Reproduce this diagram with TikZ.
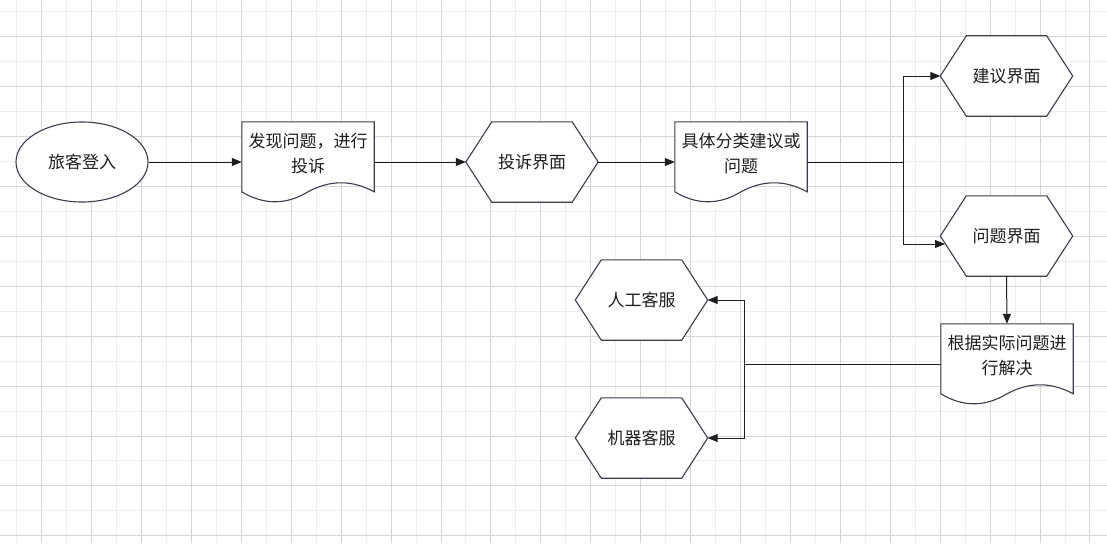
\documentclass[tikz,border=0pt]{standalone}
\usepackage{fontspec}
\setmainfont{Noto Sans CJK SC}
\usetikzlibrary{shapes.geometric,arrows.meta,calc}
\pgfdeclarelayer{bg}
\pgfdeclarelayer{mid}
\pgfsetlayers{bg,mid,main}
\definecolor{gridA}{RGB}{214,214,214}
\definecolor{gridB}{RGB}{238,238,238}
\definecolor{edgec}{RGB}{60,60,76}
\definecolor{inkc}{RGB}{30,30,30}
\tikzset{
  box/.style={rectangle, minimum width=132pt, minimum height=80pt, inner sep=0pt},
  txt/.style={font=\fontsize{17pt}{25pt}\selectfont, text=inkc, align=center},
  shapeline/.style={draw=edgec, line width=1.1pt, fill=white},
  conn/.style={draw=inkc, line width=1pt, -{Triangle[length=10pt,width=8pt]}},
  plainline/.style={draw=inkc, line width=1pt},
  gridfaint/.style={draw=gridB, line width=1pt},
  griddark/.style={draw=gridA, line width=1pt},
}
\newcommand\hexoutline[1]{%
  \draw[shapeline] (#1.west) -- ($(#1.north west)+(26,0)$) -- ($(#1.north east)+(-26,0)$)
    -- (#1.east) -- ($(#1.south east)+(-26,0)$) -- ($(#1.south west)+(26,0)$) -- cycle;}
\newcommand\docoutline[1]{%
  \draw[shapeline] (#1.north west) -- (#1.north east) -- ($(#1.north east)+(0,70)$)
    .. controls ($(#1.north east)+(-22,58)$) and ($(#1.north)+(22,58)$) .. ($(#1.north)+(0,70)$)
    .. controls ($(#1.north)+(-22,83.3)$) and ($(#1.north west)+(22,83.3)$) .. ($(#1.north west)+(0,70)$)
    -- cycle;}
\begin{document}
\begin{tikzpicture}[x=1pt,y=-1pt]
\useasboundingbox (0,0) rectangle (1107,543);
\begin{pgfonlayer}{bg}
  \fill[white] (0,0) rectangle (1107,543);
  \foreach \j in {0,...,21} {\draw[gridfaint] ({16.7+49.92*\j},0) -- ++(0,543);}
  \foreach \j in {0,...,10} {\draw[gridfaint] (0,{11.7+49.92*\j}) -- ++(1107,0);}
  \foreach \j in {0,...,21} {\draw[griddark] ({41.66+49.92*\j},0) -- ++(0,543);}
  \foreach \j in {0,...,10} {\draw[griddark] (0,{36.66+49.92*\j}) -- ++(1107,0);}
\end{pgfonlayer}

% nodes
\node[ellipse, draw=edgec, line width=1.1pt, fill=white, minimum width=132pt, minimum height=80pt, inner sep=0pt, txt] (e1) at (82,162) {旅客登入};
\node[box, label={[txt,yshift=8pt]center:{发现问题，进行\\投诉}}] (d1) at (308,162) {};
\node[box, txt] (h1) at (532,162) {投诉界面};
\node[box, label={[txt,yshift=8pt]center:{具体分类建议或\\问题}}] (d2) at (741,162) {};
\node[box, txt] (h2) at (1006.5,76) {建议界面};
\node[box, txt] (h3) at (1006.5,236) {问题界面};
\node[box, label={[txt,yshift=8pt]center:{根据实际问题进\\行解决}}] (d3) at (1007,364) {};
\node[box, txt] (h4) at (641.5,300) {人工客服};
\node[box, txt] (h5) at (641.5,438) {机器客服};

\begin{pgfonlayer}{mid}
  \hexoutline{h1}
  \hexoutline{h2}
  \hexoutline{h3}
  \hexoutline{h4}
  \hexoutline{h5}
  \docoutline{d1}
  \docoutline{d2}
  \docoutline{d3}
\end{pgfonlayer}

% connectors
\coordinate (s1) at (903,162);
\coordinate (h3in) at (945,244);
\coordinate (s2) at (744,364);
\draw[conn] (e1.east) -- (d1.west);
\draw[conn] (d1.east) -- (h1.west);
\draw[conn] (h1.east) -- (d2.west);
\draw[plainline] (d2.east) -- (s1);
\draw[conn] (s1) |- (h2.west);
\draw[conn] (s1) |- (h3in);
\draw[conn] (h3.south) -- (d3.north);
\draw[plainline] (d3.west) -- (s2);
\draw[conn] (s2) |- (h4.east);
\draw[conn] (s2) |- (h5.east);
\end{tikzpicture}
\end{document}
